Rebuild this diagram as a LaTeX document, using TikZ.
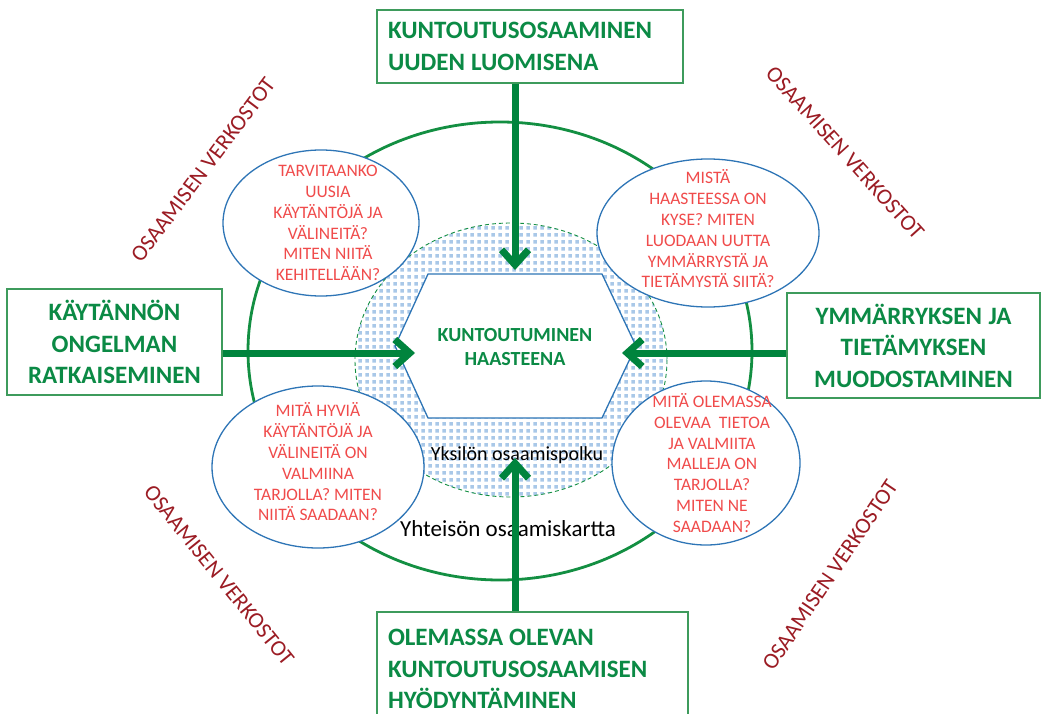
\documentclass[tikz,border=0pt]{standalone}
\usepackage{fontspec}
\setmainfont{Carlito}
\usetikzlibrary{arrows.meta,patterns,calc}
\pgfdeclarepatternformonly{bluedots}{\pgfqpoint{0pt}{0pt}}{\pgfqpoint{7pt}{7pt}}{\pgfqpoint{7pt}{7pt}}{\pgfpathrectangle{\pgfqpoint{1.5pt}{1.5pt}}{\pgfqpoint{4pt}{4pt}}\pgfusepath{fill}}
\definecolor{agreen}{HTML}{00843D}
\definecolor{tgreen}{HTML}{0B8A45}
\definecolor{bgreen}{HTML}{3E9B5C}
\definecolor{egreen}{HTML}{138F42}
\definecolor{qred}{HTML}{F04B4B}
\definecolor{eblue}{HTML}{2E75B6}
\definecolor{pblue}{HTML}{A9C8E8}
\definecolor{dred}{HTML}{9B1C24}
\newcommand\tightspace{\spaceskip=0.24em plus 0.05em minus 0.02em\relax}
\tikzset{
  x=1pt, y=-1pt,
  bigbox/.style={draw=bgreen, line width=1.5pt, fill=white, text=tgreen,
    font=\fontsize{25}{31.5}\selectfont\bfseries,
    execute at begin node=\tightspace,
    minimum height=#1, inner ysep=0pt},
  qell/.style={draw=eblue, line width=1.3pt, fill=white},
  qtext/.style={text=qred, align=center, font=\fontsize{17.5}{20.8}\selectfont, inner sep=0pt},
  netw/.style={text=dred, font=\fontsize{22.5}{26}\selectfont, inner sep=0pt},
  bigarrow/.style={draw=agreen, line width=7pt, -{Straight Barb[length=15pt,width=27pt]}},
  blacktext/.style={text=black, inner sep=0pt}
}
\begin{document}
\begin{tikzpicture}
\useasboundingbox (0,0) rectangle (1041,714);
% big green ellipse
\draw[egreen, line width=2.8pt] (500,351) ellipse [x radius=252, y radius=229];
% patterned dashed ellipse
\fill[white] (511,360) ellipse [x radius=156, y radius=137];
\fill[pattern=bluedots, pattern color=pblue] (511,360) ellipse [x radius=156, y radius=137];
\draw[egreen, line width=0.9pt, dash pattern=on 4pt off 3pt] (511,360) ellipse [x radius=156, y radius=137];
% hexagon
\draw[eblue, line width=1.3pt, fill=white] (428,274) -- (602,274) -- (636,346) -- (602,418) -- (428,418) -- (395,346) -- cycle;
\node[text=tgreen, align=center, font=\fontsize{20}{24}\selectfont\bfseries, inner sep=0pt] (hex) at (515,347) {KUNTOUTUMINEN\\HAASTEENA};
% question ellipses
\draw[qell] (321,223) ellipse [x radius=98, y radius=73];
\draw[qell] (708,233) ellipse [x radius=111, y radius=74];
\draw[qell] (318,467) ellipse [x radius=106, y radius=81];
\draw[qell] (706,463) ellipse [x radius=94, y radius=82];
\node[qtext] (q1) at (328,223) {TARVITAANKO\\UUSIA\\KÄYTÄNTÖJÄ JA\\VÄLINEITÄ?\\MITEN NIITÄ\\KEHITELLÄÄN?};
\node[qtext] (q2) at (708,229) {MISTÄ\\HAASTEESSA ON\\KYSE? MITEN\\LUODAAN UUTTA\\YMMÄRRYSTÄ JA\\TIETÄMYSTÄ SIITÄ?};
\node[qtext] (q3) at (318,462) {MITÄ HYVIÄ\\KÄYTÄNTÖJÄ JA\\VÄLINEITÄ ON\\VALMIINA\\TARJOLLA? MITEN\\NIITÄ SAADAAN?};
\node[qtext] (q4) at (712,463) {MITÄ OLEMASSA\\OLEVAA\ \ TIETOA\\JA VALMIITA\\MALLEJA ON\\TARJOLLA?\\MITEN NE\\SAADAAN?};
% labels inside
\node[blacktext, font=\fontsize{20}{24}\selectfont] (path) at (517,455) {Yksilön osaamispolku};
\node[blacktext, font=\fontsize{23}{27}\selectfont] (map) at (508,529) {Yhteisön osaamiskartta};
% network labels
\node[netw, rotate=53] (n1) at (203,170) {OSAAMISEN VERKOSTOT};
\node[netw, rotate=-48] (n2) at (845,153) {OSAAMISEN VERKOSTOT};
\node[netw, rotate=-51] (n3) at (219,575) {OSAAMISEN VERKOSTOT};
\node[netw, rotate=56] (n4) at (830,575) {OSAAMISEN VERKOSTOT};
% boxes
\node[bigbox=73pt, minimum width=306pt, text width=284pt, inner xsep=11pt, align=left] (top) at (530,46.5) {KUNTOUTUSOSAAMINEN\\UUDEN LUOMISENA};
\node[bigbox=106pt, minimum width=215pt, text width=205pt, inner xsep=5pt, align=center] (left) at (114.5,342) {KÄYTÄNNÖN\\ONGELMAN\\RATKAISEMINEN};
\node[bigbox=105pt, minimum width=253pt, text width=243pt, inner xsep=5pt, align=center] (right) at (913.5,345.5) {YMMÄRRYKSEN JA\\TIETÄMYKSEN\\MUODOSTAMINEN};
\node[bigbox=114pt, minimum width=311pt, text width=289pt, inner xsep=11pt, align=left] (bottom) at (532.5,669) {OLEMASSA OLEVAN\\KUNTOUTUSOSAAMISEN\\HYÖDYNTÄMINEN};
% arrow tips
\coordinate (tipT) at (515,270);
\coordinate (tipL) at (415,353);
\coordinate (tipR) at (622,353);
\coordinate (tipB) at (515,458);
\draw[bigarrow] (top.south -| tipT) -- (tipT);
\draw[bigarrow] (left.east |- tipL) -- (tipL);
\draw[bigarrow] (right.west |- tipR) -- (tipR);
\draw[bigarrow] (bottom.north -| tipB) -- (tipB);
\end{tikzpicture}
\end{document}
